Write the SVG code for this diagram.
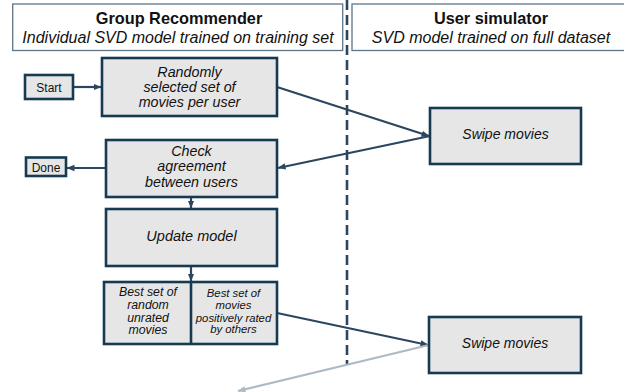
<svg xmlns="http://www.w3.org/2000/svg" width="624" height="392" viewBox="0 0 624 392">
  <style>
    .hdr { fill: #ffffff; stroke: #5f7689; stroke-width: 1.3; }
    .box { fill: #e6e6e6; stroke: #163a52; stroke-width: 2.6; }
    .t { font-family: "Liberation Sans", Arial, sans-serif; fill: #111111; text-anchor: middle; }
    .b { font-weight: bold; font-size: 16.3px; }
    .i { font-style: italic; }
    .con { fill: none; stroke: #2c4660; stroke-width: 2.2; }
    .gray { fill: none; stroke: #aebac4; stroke-width: 2.2; }
  </style>
  <defs>
    <marker id="ah" viewBox="0 0 8 8" markerUnits="userSpaceOnUse" markerWidth="8" markerHeight="8" refX="7.5" refY="4" orient="auto">
      <path d="M0,0.8 L8,4 L0,7.2 z" fill="#2c4660"/>
    </marker>
    <marker id="ahg" viewBox="0 0 8 8" markerUnits="userSpaceOnUse" markerWidth="8" markerHeight="8" refX="7.5" refY="4" orient="auto">
      <path d="M0,0.8 L8,4 L0,7.2 z" fill="#aebac4"/>
    </marker>
  </defs>

  <g id="header-left">
    <rect class="hdr" x="12.7" y="4" width="330" height="46.5"/>
    <text class="t b" x="179" y="24">Group Recommender</text>
    <text class="t i" x="178" y="43" font-size="16">Individual SVD model trained on training set</text>
  </g>
  <g id="header-right">
    <rect class="hdr" x="352" y="4" width="280" height="46.5"/>
    <text class="t b" x="491" y="24">User simulator</text>
    <text class="t i" x="491" y="43" font-size="16">SVD model trained on full dataset</text>
  </g>

  <line id="divider" x1="347" y1="0" x2="347" y2="365" stroke="#2c4660" stroke-width="2.6" stroke-dasharray="10,5"/>

  <g id="connectors">
    <path class="con" d="M73,87 L101,87" marker-end="url(#ah)"/>
    <path class="con" d="M277,87 L429,136" marker-end="url(#ah)"/>
    <path class="con" d="M430,136 L278,168" marker-end="url(#ah)"/>
    <path class="con" d="M106,168 L67,168" marker-end="url(#ah)"/>
    <path class="con" d="M191,198 L191,208" marker-end="url(#ah)"/>
    <path class="con" d="M191,267 L191,281" marker-end="url(#ah)"/>
    <path class="con" d="M277,313 L428,345" marker-end="url(#ah)"/>
    <path class="gray" d="M429,345 L238,391" marker-end="url(#ahg)"/>
  </g>

  <g id="start">
    <rect class="box" x="25" y="75" width="48" height="24"/>
    <text class="t" x="49" y="91.5" font-size="12">Start</text>
  </g>
  <g id="random-select">
    <rect class="box" x="102" y="58" width="175" height="58"/>
    <text class="t i" font-size="14.3"><tspan x="189.5" y="76.5">Randomly</tspan><tspan x="189.5" y="91.5">selected set of</tspan><tspan x="189.5" y="106.5">movies per user</tspan></text>
  </g>
  <g id="done">
    <rect class="box" x="26" y="157.5" width="40" height="18.5"/>
    <text class="t" x="46" y="171.5" font-size="12">Done</text>
  </g>
  <g id="check">
    <rect class="box" x="106" y="140" width="171" height="57"/>
    <text class="t i" font-size="14.3"><tspan x="191.5" y="156">Check</tspan><tspan x="191.5" y="171">agreement</tspan><tspan x="191.5" y="187">between users</tspan></text>
  </g>
  <g id="swipe-1">
    <rect class="box" x="430" y="108" width="151" height="56"/>
    <text class="t i" x="505.5" y="139" font-size="14">Swipe movies</text>
  </g>
  <g id="update">
    <rect class="box" x="106" y="209" width="171" height="57"/>
    <text class="t i" x="191.5" y="241" font-size="14.5">Update model</text>
  </g>
  <g id="best-sets">
    <rect class="box" x="104" y="282" width="173" height="62"/>
    <line x1="191" y1="282" x2="191" y2="344" stroke="#163a52" stroke-width="2.6"/>
    <text class="t i" font-size="12.3"><tspan x="148" y="296">Best set of</tspan><tspan x="148" y="309">random</tspan><tspan x="148" y="321.5">unrated</tspan><tspan x="148" y="334">movies</tspan></text>
    <text class="t i" font-size="11.3"><tspan x="233.5" y="297">Best set of</tspan><tspan x="233.5" y="309">movies</tspan><tspan x="233.5" y="321.5">positively rated</tspan><tspan x="233.5" y="332.5">by others</tspan></text>
  </g>
  <g id="swipe-2">
    <rect class="box" x="429" y="317" width="152" height="56"/>
    <text class="t i" x="505" y="348" font-size="14">Swipe movies</text>
  </g>
</svg>
